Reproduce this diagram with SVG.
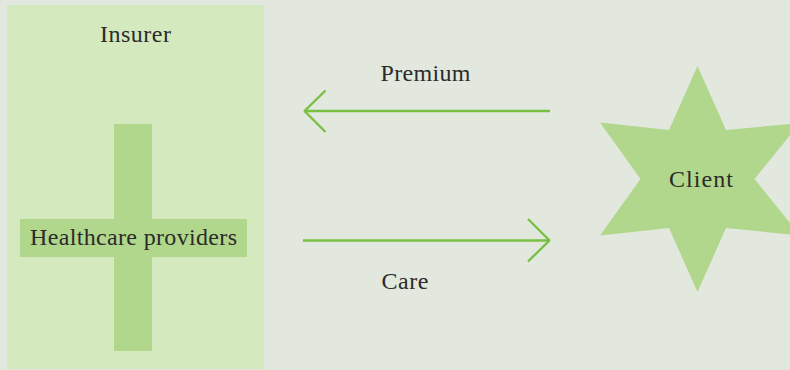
<svg xmlns="http://www.w3.org/2000/svg" width="790" height="370" viewBox="0 0 790 370">
<style>
.t{font-family:"Liberation Serif","Times New Roman",serif;font-size:24px;fill:#2b2b2b;text-anchor:middle}
.s{fill:#b1d78c}
.c{fill:none;stroke:#78c043;stroke-width:2.400;stroke-linejoin:bevel}
</style>
<rect width="790" height="370" fill="#e2e8de"/>
<g id="insurer"><rect x="7" y="5" width="257" height="364" fill="#d5e9bf"/><text class="t" x="135.500" y="41.500" textLength="71" lengthAdjust="spacing">Insurer</text></g>
<g id="healthcare-providers"><rect class="s" x="114" y="124" width="38" height="227"/><rect class="s" x="20" y="219" width="227" height="38"/><text class="t" x="133.500" y="244.500" textLength="207" lengthAdjust="spacing">Healthcare providers</text></g>
<g id="client"><polygon class="s" points="697.500,66 726,130 800,123 754.500,179 800,235.500 726,228 697.500,292 669,228 600,235.500 640.500,179 600,122.500 669,130"/><text class="t" x="701" y="186.500" textLength="64" lengthAdjust="spacing">Client</text></g>
<g id="connectors">
<path class="c" d="M550 111H304"/><path class="c" d="M325.500 90.500L304.500 111L325.500 132"/>
<path class="c" d="M303 240.500H549"/><path class="c" d="M528 219L549.500 240.500L528 261.500"/>
</g>
<g id="labels"><text class="t" x="425.500" y="80.500" textLength="90" lengthAdjust="spacing">Premium</text><text class="t" x="405" y="288.500" textLength="47" lengthAdjust="spacing">Care</text></g>
</svg>
